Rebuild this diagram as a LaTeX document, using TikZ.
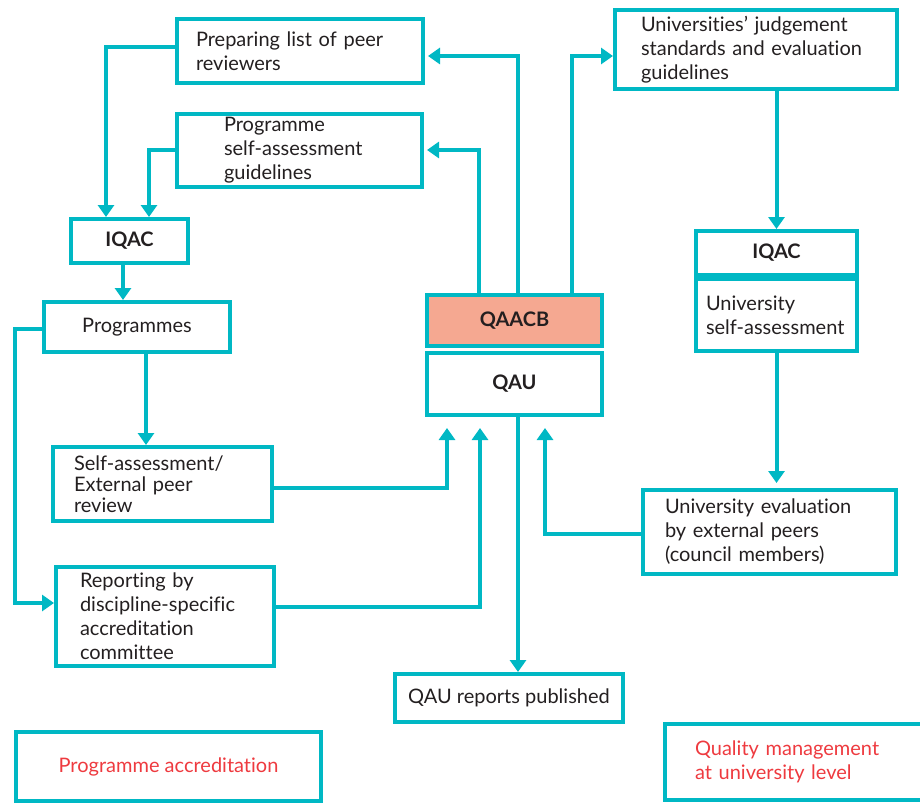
\documentclass[tikz,border=0pt]{standalone}
\usepackage{fontspec}
\setmainfont{Lato}[Ligatures=NoCommon]
\usetikzlibrary{arrows.meta}
\definecolor{flow}{RGB}{0,184,196}
\definecolor{ink}{RGB}{35,31,32}
\definecolor{salmon}{RGB}{245,168,145}
\definecolor{tag}{RGB}{238,58,63}
\begin{document}
\begin{tikzpicture}[x=1pt,y=-1pt,
  every node/.style={font=\fontsize{20}{24}\selectfont, text=ink},
  box/.style={draw=flow, line width=4pt, inner ysep=0pt, minimum height=#1},
  lbox/.style={box=#1, align=left},
  cbox/.style={box=#1, align=center, inner xsep=0pt},
  heavy/.style={font=\fontsize{20}{24}\selectfont\bfseries},
  arr/.style={draw=flow, line width=4pt, -{Triangle[width=16pt,length=12pt]}}]
\useasboundingbox (0,0) rectangle (920,805);

% programme-level boxes (left)
\node[lbox=64, inner xsep=19pt, text width=208pt] (prep) at (300,51)
  {\mbox{Preparing list of peer}\\reviewers};
\node[lbox=73, inner xsep=47pt, text width=151pt] (guide) at (299.5,150.5)
  {Programme\\\mbox{self-assessment}\\guidelines};
\node[cbox=44, minimum width=117pt, heavy] (iqacL) at (129.5,241) {IQAC};
\node[cbox=50, minimum width=186pt] (progs) at (137,327) {Programmes};
\node[lbox=74, inner xsep=21pt, text width=177pt, font=\fontsize{20}{21}\selectfont] (selfa) at (162.5,484)
  {\mbox{Self-assessment/}\\\mbox{External peer}\\review};
\node[lbox=99, inner xsep=24pt, text width=170pt] (report) at (165,616.5)
  {\mbox{Reporting by}\\\mbox{discipline-specific}\\accreditation\\committee};

% central bodies
\node[cbox=51, minimum width=175pt, fill=salmon, heavy] (qaacb) at (514.5,320.5) {QAACB};
\node[cbox=62, minimum width=175pt, heavy] (qau) at (514.5,384) {QAU};
\node[cbox=48, minimum width=228pt] (reports) at (509,698) {QAU reports published};

% university-level boxes (right)
\node[lbox=79, inner xsep=26pt, text width=230pt] (univstd) at (756,49.5)
  {\mbox{Universities’ judgement}\\\mbox{standards and evaluation}\\guidelines};
\node[cbox=44, minimum width=161pt, heavy] (iqacR) at (776.5,253) {IQAC};
\node[lbox=72, inner xsep=10pt, text width=141pt] (univsa) at (776.5,315)
  {University\\\mbox{self-assessment}};
\node[lbox=84, inner xsep=22pt, text width=209pt] (uneval) at (769.5,532)
  {\mbox{University evaluation}\\\mbox{by external peers}\\\mbox{(council members)}};

% legend boxes
\node[cbox=69, minimum width=305pt, text=tag] (progacc) at (168.5,766.5) {Programme accreditation};
\node[lbox=76, inner xsep=30pt, text width=203pt, text=tag] (qmuni) at (796.5,762)
  {\mbox{Quality management}\\\mbox{at university level}};

% programme accreditation flow
\draw[arr] ([yshift=4pt]prep.west) -| ([xshift=-23.5pt]iqacL.north);
\draw[arr] ([yshift=0.5pt]guide.west) -| ([xshift=19.5pt]iqacL.north);
\draw[arr] ([xshift=-6.5pt]iqacL.south) -- ([xshift=-6.5pt]iqacL.south |- progs.north);
\draw[arr] ([yshift=-2pt]progs.west) -- ++(-27,0) |- ([yshift=13.5pt]report.west);
\draw[arr] ([xshift=9pt]progs.south) -- ([xshift=9pt]progs.south |- selfa.north);
\draw[arr] ([yshift=-4pt]selfa.east) -| ([xshift=-67.5pt,yshift=-11pt]qau.south);
\draw[arr] ([yshift=9.5pt]report.east) -| ([xshift=-34.5pt,yshift=-11pt]qau.south);

% outputs of QAACB
\draw[arr, shorten >=3pt] ([xshift=-35.5pt]qaacb.north) |- ([yshift=0.5pt]guide.east);
\draw[arr, shorten >=3pt] ([xshift=3.5pt]qaacb.north) |- ([yshift=-5pt]prep.east);
\draw[arr] ([xshift=57.5pt]qaacb.north) |- ([yshift=-6.5pt]univstd.west);
\draw[arr] ([xshift=3.5pt]qau.south) -- ([xshift=3.5pt]qau.south |- reports.north);

% university-level flow
\draw[arr] (univstd.south -| iqacR.north) -- (iqacR.north);
\draw[arr, shorten >=5pt] (univsa.south) -- (univsa.south |- uneval.north);
\draw[arr] ([yshift=-2pt]uneval.west) -| ([xshift=30.5pt,yshift=-11pt]qau.south);
\end{tikzpicture}
\end{document}
